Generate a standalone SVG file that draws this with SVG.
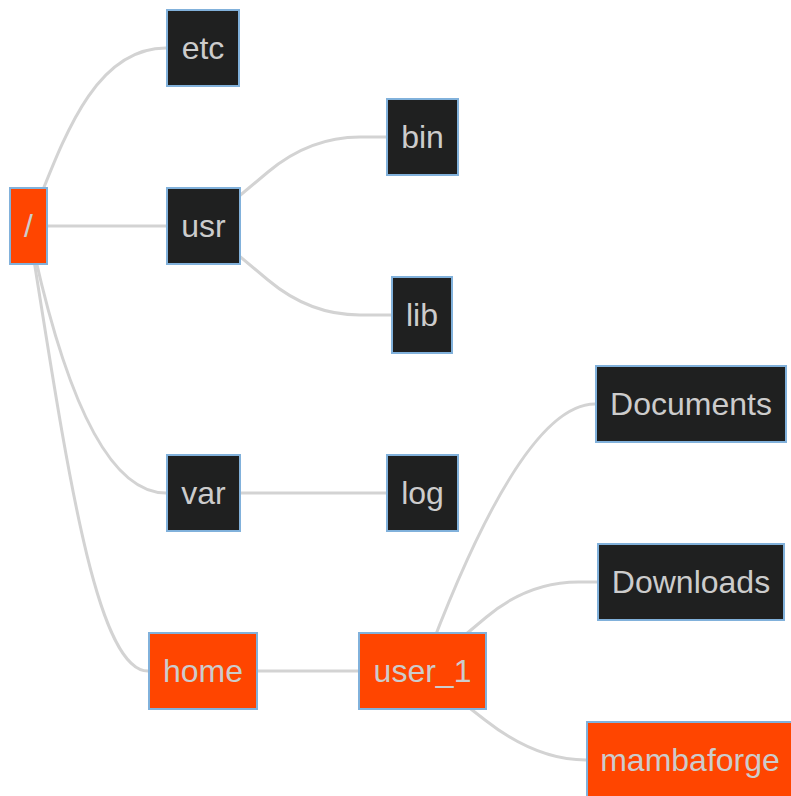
<svg xmlns="http://www.w3.org/2000/svg" width="791" height="796" viewBox="0 0 791 796">
  <style>
    .edge { fill: none; stroke: #d3d3d3; stroke-width: 3; }
    .node rect { fill: #1f2020; stroke: #81b1db; stroke-width: 2; }
    .node.hl rect { fill: #ff4500; }
    .node text { font-family: "Liberation Sans", Arial, sans-serif; font-size: 32px; fill: #cccccc; text-anchor: middle; }
  </style>
  <rect width="791" height="796" fill="#ffffff"/>
  <g id="connectors">
    <path class="edge" d="M28.5,226 C60,150 90,48 166,48"/>
    <path class="edge" d="M28.5,226 H166"/>
    <path class="edge" d="M28.5,226 Q83.5,493 166,493"/>
    <path class="edge" d="M28.5,226 C64.4,448.5 94.2,671 148,671"/>
    <path class="edge" d="M203.5,226 L268,172 Q309.7,137 360,137 H386"/>
    <path class="edge" d="M203.5,226 L268,280 Q309.7,315 360,315 H391"/>
    <path class="edge" d="M203.5,493 H386"/>
    <path class="edge" d="M203,671 H358"/>
    <path class="edge" d="M422,671 Q520.6,404 595,404"/>
    <path class="edge" d="M422,671 L486.5,617 Q528.2,582 578.5,582 H597"/>
    <path class="edge" d="M422,671 L485,720 Q536,760 586,760"/>
  </g>
  <g id="node-root" class="node hl">
    <rect x="10" y="188" width="37" height="76"/>
    <text x="28.5" y="237">/</text>
  </g>
  <g id="node-etc" class="node">
    <rect x="167" y="10" width="72" height="76"/>
    <text x="203" y="59">etc</text>
  </g>
  <g id="node-usr" class="node">
    <rect x="167" y="188" width="73" height="76"/>
    <text x="203.5" y="237">usr</text>
  </g>
  <g id="node-bin" class="node">
    <rect x="387" y="99" width="71" height="76"/>
    <text x="422.5" y="148">bin</text>
  </g>
  <g id="node-lib" class="node">
    <rect x="392" y="277" width="60" height="76"/>
    <text x="422" y="326">lib</text>
  </g>
  <g id="node-var" class="node">
    <rect x="167" y="455" width="73" height="76"/>
    <text x="203.5" y="504">var</text>
  </g>
  <g id="node-log" class="node">
    <rect x="387" y="455" width="71" height="76"/>
    <text x="422.5" y="504">log</text>
  </g>
  <g id="node-home" class="node hl">
    <rect x="149" y="633" width="108" height="76"/>
    <text x="203" y="682">home</text>
  </g>
  <g id="node-user_1" class="node hl">
    <rect x="359" y="633" width="127" height="76"/>
    <text x="422.5" y="682">user_1</text>
  </g>
  <g id="node-Documents" class="node">
    <rect x="596" y="366" width="190" height="76"/>
    <text x="691" y="415">Documents</text>
  </g>
  <g id="node-Downloads" class="node">
    <rect x="598" y="544" width="186" height="76"/>
    <text x="691" y="593">Downloads</text>
  </g>
  <g id="node-mambaforge" class="node hl">
    <rect x="587" y="722" width="206" height="76"/>
    <text x="690" y="771">mambaforge</text>
  </g>
</svg>
